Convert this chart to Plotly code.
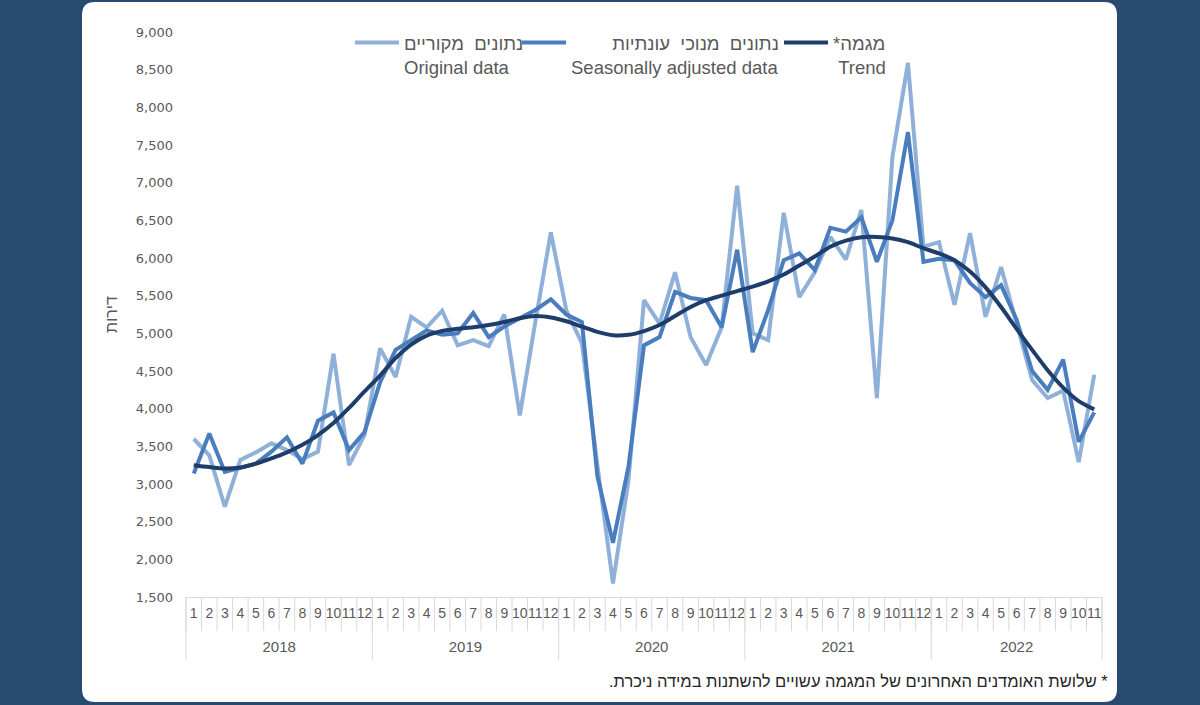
import plotly.graph_objects as go

# ---------------- data ----------------
years = ["2018", "2019", "2020", "2021", "2022"]
month_labels = [
    ["1", "2", "3", "4", "5", "6", "7", "8", "9", "10", "11", "12"],
    ["1", "2", "3", "4", "5", "6", "7", "8", "9", "10", "11", "12"],
    ["1", "2", "3", "4", "5", "6", "7", "8", "9", "10", "11", "12"],
    ["1", "2", "3", "4", "5", "6", "7", "8", "9", "10", "11", "12"],
    ["1", "2", "3", "4", "5", "6", "7", "8", "9", "10", "11"],
]

original = [
    3600, 3380, 2700, 3320, 3420, 3540, 3450, 3330, 3430, 4730, 3250, 3650,
    4800, 4420, 5220, 5080, 5300, 4840, 4910, 4830, 5250, 3910, 5150, 6340,
    5300, 4870, 3250, 1680, 3050, 5440, 5130, 5810, 4950, 4580, 5080, 6960,
    5000, 4910, 6600, 5480, 5810, 6280, 5980, 6640, 4140, 7340, 8590, 6150,
    6210, 5380, 6330, 5220, 5880, 5150, 4380, 4140, 4240, 3290, 4450,
]
seasonally_adjusted = [
    3140, 3670, 3160, 3220, 3270, 3430, 3620, 3270, 3840, 3950, 3450, 3690,
    4350, 4780, 4910, 5040, 4980, 5000, 5270, 4950, 5090, 5200, 5310, 5450,
    5250, 5150, 3100, 2220, 3230, 4840, 4950, 5550, 5470, 5440, 5080, 6110,
    4750, 5310, 5970, 6060, 5840, 6400, 6350, 6540, 5950, 6500, 7670, 5950,
    5990, 5970, 5670, 5480, 5640, 5180, 4500, 4250, 4650, 3560, 3950,
]
trend = [
    3250, 3225, 3205, 3220, 3270, 3340, 3420, 3520, 3650, 3810, 4010, 4230,
    4440, 4670, 4850, 4970, 5030, 5060, 5080, 5110, 5150, 5200, 5230, 5210,
    5160, 5090, 5020, 4975, 4980, 5030, 5110, 5230, 5350, 5440, 5500, 5560,
    5620, 5690, 5780, 5900, 6020, 6150, 6230, 6275, 6280, 6260, 6210, 6130,
    6060, 5970, 5820, 5610, 5350, 5060, 4780, 4510, 4280, 4100, 3990,
]

NB = "\u00A0"
name_original = "נתונים  מקוריים<br>Original data"
name_sa = NB * 8 + "נתונים  מנוכי  עונתיות<br>Seasonally adjusted data"
name_trend = "*מגמה<br>" + NB + "Trend"
y_title = "דירות"
footnote = "\u200F* שלושת האומדנים האחרונים של המגמה עשויים להשתנות במידה ניכרת.\u200F"

# ---------------- build categories ----------------
x_keys, x_month = [], []
year_centers = []
start = 0
for y, ms in zip(years, month_labels):
    for m in ms:
        x_keys.append(f"{y}-{m}")
        x_month.append(m)
    year_centers.append(start + (len(ms) - 1) / 2)
    start += len(ms)
n_cat = len(x_keys)

# ---------------- layout geometry (pixels) ----------------
W, H = 1200, 705
L_PX, R_PX, T_PX, B_PX = 186, 1102, 32, 597
PW, PH = R_PX - L_PX, B_PX - T_PX


def X(px):
    return (px - L_PX) / PW


def Y(py):
    return (B_PX - py) / PH


C_LIGHT = "#8fb0d9"
C_MID = "#4a7dbd"
C_DARK = "#1f3d6b"
BG = "#284a70"
GRID_GRAY = "#d9d9d9"
TXT_GRAY = "#595959"

fig = go.Figure()
fig.add_trace(go.Scatter(x=x_keys, y=original, mode="lines",
                         name=name_original, line=dict(color=C_LIGHT, width=4),
                         legend="legend", showlegend=True))
fig.add_trace(go.Scatter(x=x_keys, y=seasonally_adjusted, mode="lines",
                         name=name_sa, line=dict(color=C_MID, width=4),
                         legend="legend2", showlegend=True))
fig.add_trace(go.Scatter(x=x_keys, y=trend, mode="lines",
                         name=name_trend, line=dict(color=C_DARK, width=4, shape="spline", smoothing=0.8),
                         legend="legend3", showlegend=True))
# carrier for the year axis (outer category level), draws nothing
fig.add_trace(go.Scatter(x=year_centers, y=[None] * len(year_centers), xaxis="x2",
                         mode="lines", showlegend=False, hoverinfo="skip"))

# card background
r = 14
x0, x1, y0, y1 = 81, 1118, 1, 703
card = (
    f"M {X(x0 + r)},{Y(y0)} L {X(x1 - r)},{Y(y0)} Q {X(x1)},{Y(y0)} {X(x1)},{Y(y0 + r)} "
    f"L {X(x1)},{Y(y1 - r)} Q {X(x1)},{Y(y1)} {X(x1 - r)},{Y(y1)} "
    f"L {X(x0 + r)},{Y(y1)} Q {X(x0)},{Y(y1)} {X(x0)},{Y(y1 - r)} "
    f"L {X(x0)},{Y(y0 + r)} Q {X(x0)},{Y(y0)} {X(x0 + r)},{Y(y0)} Z"
)
shapes = [dict(type="path", path=card, xref="paper", yref="paper",
               fillcolor="white", line=dict(color=BG, width=2), layer="below")]

# category separators
for k in range(n_cat + 1):
    shapes.append(dict(type="line", xref="paper", yref="paper",
                       x0=k / n_cat, x1=k / n_cat, y0=0, y1=Y(631),
                       line=dict(color=GRID_GRAY, width=1), layer="above"))
bound = 0
for ms in [[]] + month_labels:
    bound += len(ms)
    shapes.append(dict(type="line", xref="paper", yref="paper",
                       x0=bound / n_cat, x1=bound / n_cat, y0=0, y1=Y(660),
                       line=dict(color=GRID_GRAY, width=1), layer="above"))

legend_common = dict(yanchor="top", xanchor="left", orientation="v",
                     bgcolor="rgba(0,0,0,0)", valign="top", itemwidth=44,
                     font=dict(family="Liberation Sans, Arial, DejaVu Sans", size=18.5, color=TXT_GRAY),
                     tracegroupgap=0, itemclick=False, visible=True)

fig.update_layout(
    width=W, height=H,
    showlegend=True,
    margin=dict(l=L_PX, r=W - R_PX, t=T_PX, b=H - B_PX, autoexpand=False),
    paper_bgcolor=BG,
    plot_bgcolor="rgba(0,0,0,0)",
    shapes=shapes,
    legend=dict(x=X(350), y=Y(24), **legend_common),
    legend2=dict(x=X(517), y=Y(24), **legend_common),
    legend3=dict(x=X(779), y=Y(24), **legend_common),
    xaxis=dict(
        type="category", categoryorder="array", categoryarray=x_keys,
        tickmode="array", tickvals=x_keys, ticktext=x_month, tickangle=0,
        showline=True, linecolor=GRID_GRAY, linewidth=1,
        showgrid=False, zeroline=False, ticks="", ticklabelstandoff=3,
        tickfont=dict(family="Liberation Sans, Arial, sans-serif", size=14, color=TXT_GRAY),
        range=[-0.5, n_cat - 0.5],
    ),
    xaxis2=dict(
        overlaying="x", anchor="y", side="bottom", type="linear",
        range=[-0.5, n_cat - 0.5],
        tickmode="array", tickvals=year_centers, ticktext=years, tickangle=0,
        showline=False, showgrid=False, zeroline=False, ticks="", ticklabelstandoff=39,
        tickfont=dict(family="Liberation Sans, Arial, sans-serif", size=15, color=TXT_GRAY),
    ),
    yaxis=dict(
        range=[1500, 9000], dtick=500, tick0=1500,
        tickformat=",", showgrid=False, zeroline=False, showline=False,
        ticks="", ticklabelstandoff=12,
        tickfont=dict(family="DejaVu Sans, Verdana, sans-serif", size=13, color=TXT_GRAY),
        title=dict(text=y_title, standoff=14,
                   font=dict(family="Liberation Sans, DejaVu Sans", size=16, color=TXT_GRAY)),
    ),
    annotations=[dict(text=footnote, xref="paper", yref="paper",
                      x=X(1110), y=Y(681), xanchor="right", yanchor="middle",
                      showarrow=False,
                      font=dict(family="Liberation Sans, DejaVu Sans", size=16.5, color="#262626"))],
)

fig.write_html(
    "out.html",
    config={"displayModeBar": False},
    post_script="document.body.style.margin='0';document.body.style.background='" + BG + "';",
)
